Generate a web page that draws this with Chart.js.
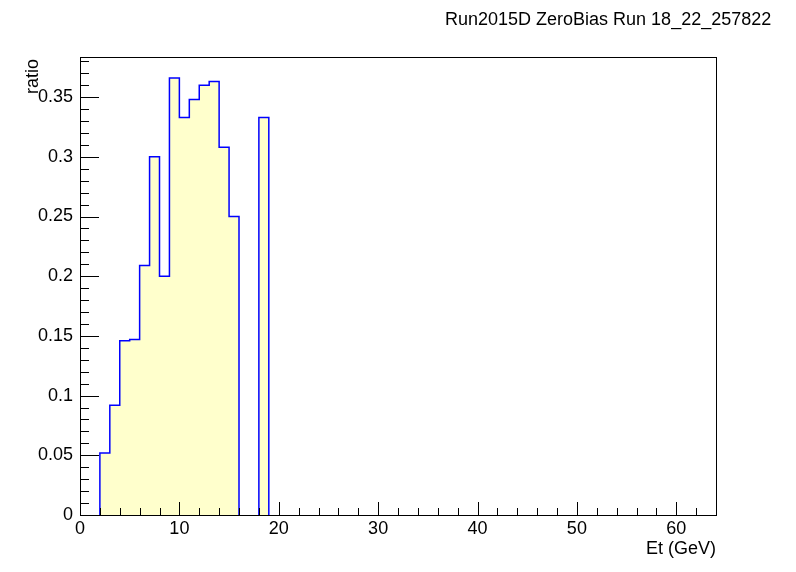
<!DOCTYPE html>
<html>
<head>
<script src="https://cdn.jsdelivr.net/npm/chart.js@4"></script>
<style>html,body{margin:0;padding:0;background:#fff}#c{display:block}</style>
</head>
<body>
<div style="width:796px;height:572px"><canvas id="c"></canvas></div>
<script>
const binLow = [2, 3, 4, 5, 6, 7, 8, 9, 10, 11, 12, 13, 14, 15, 16, 17, 18];
const ratio = [0.052, 0.092, 0.146, 0.147, 0.209, 0.300, 0.200, 0.366, 0.333, 0.348, 0.360, 0.363, 0.308, 0.250, 0, 0, 0.333];
const xTicks = [0, 10, 20, 30, 40, 50, 60];
const yTicks = [0, 0.05, 0.1, 0.15, 0.2, 0.25, 0.3, 0.35];
const yLabels = ['0', '0.05', '0.1', '0.15', '0.2', '0.25', '0.3', '0.35'];

// step outline: each contiguous run of non-empty bins becomes one closed block
function histPoints() {
  const pts = [];
  let open = false;
  binLow.forEach((lo, i) => {
    const v = ratio[i];
    if (v > 0) {
      if (!open) pts.push({ x: lo, y: 0 });
      pts.push({ x: lo, y: v });
      open = true;
    } else if (open) {
      pts.push({ x: lo, y: 0 });
      pts.push({ x: lo, y: null });
      open = false;
    }
  });
  if (open) {
    const end = binLow[binLow.length - 1] + 1;
    pts.push({ x: end, y: 0 });
  }
  return pts;
}

const frame = {
  id: 'frame',
  afterDraw(chart) {
    const { ctx, chartArea: a, scales } = chart;
    const xs = scales.x, ys = scales.y;
    ctx.save();
    ctx.strokeStyle = '#000';
    ctx.lineWidth = 1;
    ctx.strokeRect(a.left + 0.5, a.top + 0.5, a.right - a.left, a.bottom - a.top);
    ctx.beginPath();
    for (let v = 0; v <= 64; v += 2) {
      const px = Math.round(xs.getPixelForValue(v)) + 0.5;
      const len = v % 10 === 0 ? 13 : 7;
      ctx.moveTo(px, a.bottom); ctx.lineTo(px, a.bottom - len);
    }
    for (let k = 0; k <= 38; k++) {
      const py = Math.round(ys.getPixelForValue(k / 100)) + 0.5;
      const len = k % 5 === 0 ? 19 : 9;
      ctx.moveTo(a.left, py); ctx.lineTo(a.left + len, py);
    }
    ctx.stroke();
    ctx.fillStyle = '#000';
    ctx.font = '18px "Liberation Sans", Arial, sans-serif';
    ctx.textAlign = 'center'; ctx.textBaseline = 'top';
    xTicks.forEach(v => ctx.fillText(String(v), xs.getPixelForValue(v), a.bottom + 5));
    ctx.textAlign = 'right'; ctx.textBaseline = 'middle';
    yTicks.forEach((v, i) => ctx.fillText(yLabels[i], a.left - 7, ys.getPixelForValue(v)));
    ctx.textAlign = 'right'; ctx.textBaseline = 'top';
    ctx.fillText('Et (GeV)', a.right, a.bottom + 25);
    ctx.save();
    ctx.translate(24, a.top + 2);
    ctx.rotate(-Math.PI / 2);
    ctx.textAlign = 'right'; ctx.textBaseline = 'top';
    ctx.fillText('ratio', 0, 0);
    ctx.restore();
    ctx.textAlign = 'left'; ctx.textBaseline = 'middle';
    ctx.fillText('Run2015D ZeroBias Run 18_22_257822', 445, 20);
    ctx.restore();
  }
};

new Chart(document.getElementById('c'), {
  type: 'line',
  data: {
    datasets: [{
      data: histPoints(),
      stepped: 'before',
      borderColor: '#0000ff',
      borderWidth: 1.5,
      backgroundColor: '#ffffcc',
      fill: 'origin',
      pointRadius: 0,
      spanGaps: false,
    }],
  },
  options: {
    animation: false,
    responsive: true,
    maintainAspectRatio: false,
    layout: { padding: { left: 80, right: 80, top: 57, bottom: 57 } },
    plugins: { legend: { display: false }, tooltip: { enabled: false } },
    scales: {
      x: { type: 'linear', min: 0, max: 64, display: false },
      y: { type: 'linear', min: 0, max: 0.3836, display: false },
    },
  },
  plugins: [frame],
});
</script>
</body>
</html>
